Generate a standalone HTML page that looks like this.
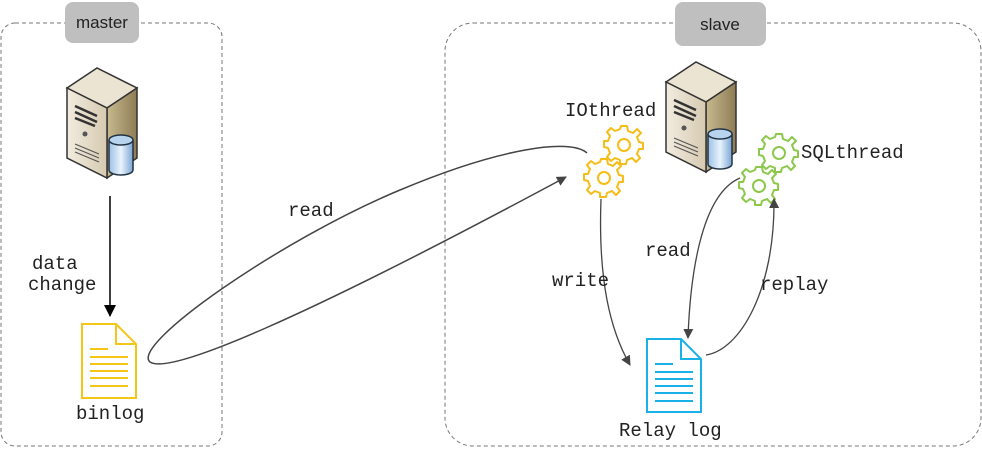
<!DOCTYPE html>
<html><head><meta charset="utf-8"><style>
body{margin:0;background:#fff;}
svg text{font-family:"Liberation Mono",monospace;font-size:19px;fill:#222;}
</style></head><body>
<svg width="982" height="449" viewBox="0 0 982 449" xmlns="http://www.w3.org/2000/svg">
<defs>
<marker id="ah" markerWidth="10" markerHeight="10" refX="9" refY="5" orient="auto" markerUnits="userSpaceOnUse"><path d="M0,0 L10,5 L0,10 z" fill="#444"/></marker>
<marker id="ahb" markerWidth="12" markerHeight="12" refX="11" refY="6" orient="auto" markerUnits="userSpaceOnUse"><path d="M0,0 L12,6 L0,12 z" fill="#000"/></marker>
<linearGradient id="srv" x1="0" x2="1"><stop offset="0" stop-color="#f2ecdf"/><stop offset="1" stop-color="#d6cab0"/></linearGradient>
<linearGradient id="srvs" x1="0" x2="1"><stop offset="0" stop-color="#c9b98f"/><stop offset="1" stop-color="#8e7c55"/></linearGradient>
<linearGradient id="cyl" x1="0" x2="1"><stop offset="0" stop-color="#9cc0e6"/><stop offset="0.5" stop-color="#e9f3fc"/><stop offset="1" stop-color="#7aa6d4"/></linearGradient>
<g id="server">
<polygon points="0,20 30,0 70,20 40,40" fill="#ece4d2" stroke="#333" stroke-width="1.5"/>
<polygon points="40,40 70,20 70,90 40,110" fill="url(#srvs)" stroke="#333" stroke-width="1.5"/>
<polygon points="0,20 40,40 40,110 0,90" fill="url(#srv)" stroke="#333" stroke-width="1.5"/>
<path d="M8,38 L30,48 M8,44 L30,54 M8,50 L28,58" stroke="#333" stroke-width="2.5"/>
<circle cx="18" cy="66" r="2.5" fill="#555"/>
<path d="M8,76 L32,86 M8,80 L32,90 M8,84 L32,94" stroke="#555" stroke-width="1.2"/>
<path d="M42,72 L42,102 A12,5 0 0 0 66,102 L66,72" fill="url(#cyl)" stroke="#234" stroke-width="1.5"/>
<ellipse cx="54" cy="72" rx="12" ry="5" fill="#b7d3ee" stroke="#234" stroke-width="1.5"/>
</g>
<g id="gear">
<path d="M-3,-18 L3,-18 L4,-13 L9,-11 L13,-15 L17,-11 L13,-7 L15,-2 L19,-1 L19,5 L15,5 L13,10 L16,14 L12,18 L8,14 L3,16 L2,20 L-4,20 L-4,16 L-9,14 L-13,17 L-17,13 L-14,9 L-16,4 L-20,3 L-20,-3 L-16,-3 L-14,-8 L-17,-12 L-13,-16 L-9,-13 L-4,-15 Z" fill="#fff" stroke-width="2" stroke-linejoin="round"/>
<circle cx="0" cy="1" r="6" fill="none" stroke-width="2"/>
</g>
</defs>
<rect x="1" y="23" width="221" height="423" rx="14" fill="none" stroke="#777" stroke-dasharray="4,3"/>
<rect x="445" y="23" width="536" height="423" rx="28" fill="none" stroke="#777" stroke-dasharray="4,3"/>
<rect x="65" y="2" width="74" height="41" rx="8" fill="#bfbfbf"/>
<text x="102" y="28" text-anchor="middle" style="font-family:'Liberation Sans',sans-serif;font-size:17px;fill:#222">master</text>
<rect x="675" y="2" width="91" height="44" rx="8" fill="#bfbfbf"/>
<text x="720" y="30" text-anchor="middle" style="font-family:'Liberation Sans',sans-serif;font-size:17px;fill:#222">slave</text>
<use href="#server" x="67" y="68"/>
<use href="#server" x="666" y="62"/>
<g stroke="#f5bd16"><use href="#gear" x="624" y="144"/><use href="#gear" x="604" y="177"/></g>
<g stroke="#8cc84b"><use href="#gear" x="779" y="152"/><use href="#gear" x="759" y="185"/></g>
<!-- binlog doc -->
<path d="M82,324 L116,324 L136,344 L136,398 L82,398 Z" fill="#fff" stroke="#f5c518" stroke-width="2"/>
<path d="M116,324 L116,344 L136,344" fill="none" stroke="#f5c518" stroke-width="2"/>
<path d="M90,349 L108,349 M90,357 L128,357 M90,364 L128,364 M90,371 L128,371 M90,378 L128,378 M90,386 L128,386" stroke="#f5c518" stroke-width="2"/>
<!-- relay doc -->
<path d="M647,339 L681,339 L701,359 L701,412 L647,412 Z" fill="#fff" stroke="#1ab0e8" stroke-width="2"/>
<path d="M681,339 L681,359 L701,359" fill="none" stroke="#1ab0e8" stroke-width="2"/>
<path d="M655,364 L673,364 M655,372 L693,372 M655,379 L693,379 M655,386 L693,386 M655,393 L693,393 M655,401 L693,401" stroke="#1ab0e8" stroke-width="2"/>
<!-- connectors -->
<line x1="110" y1="196" x2="110" y2="316" stroke="#000" stroke-width="1.5" marker-end="url(#ahb)"/>
<path d="M587,153 C570,138 500,148 400,190 C280,240 130,345 150,362 C170,375 300,320 566,177" fill="none" stroke="#444" stroke-width="1.5" marker-end="url(#ah)"/>
<path d="M601,199 C598,280 610,330 630,365" fill="none" stroke="#444" stroke-width="1.3" marker-end="url(#ah)"/>
<path d="M740,178 C700,195 690,280 688,338" fill="none" stroke="#444" stroke-width="1.3" marker-end="url(#ah)"/>
<path d="M706,355 C740,350 775,290 774,199" fill="none" stroke="#444" stroke-width="1.3" marker-end="url(#ah)"/>
<!-- labels -->
<text x="288" y="216">read</text>
<text x="32" y="269">data</text>
<text x="28" y="290">change</text>
<text x="76" y="419">binlog</text>
<text x="565" y="116">IOthread</text>
<text x="801" y="158">SQLthread</text>
<text x="552" y="286">write</text>
<text x="645" y="256">read</text>
<text x="760" y="290">replay</text>
<text x="619" y="436">Relay log</text>
</svg>
</body></html>
